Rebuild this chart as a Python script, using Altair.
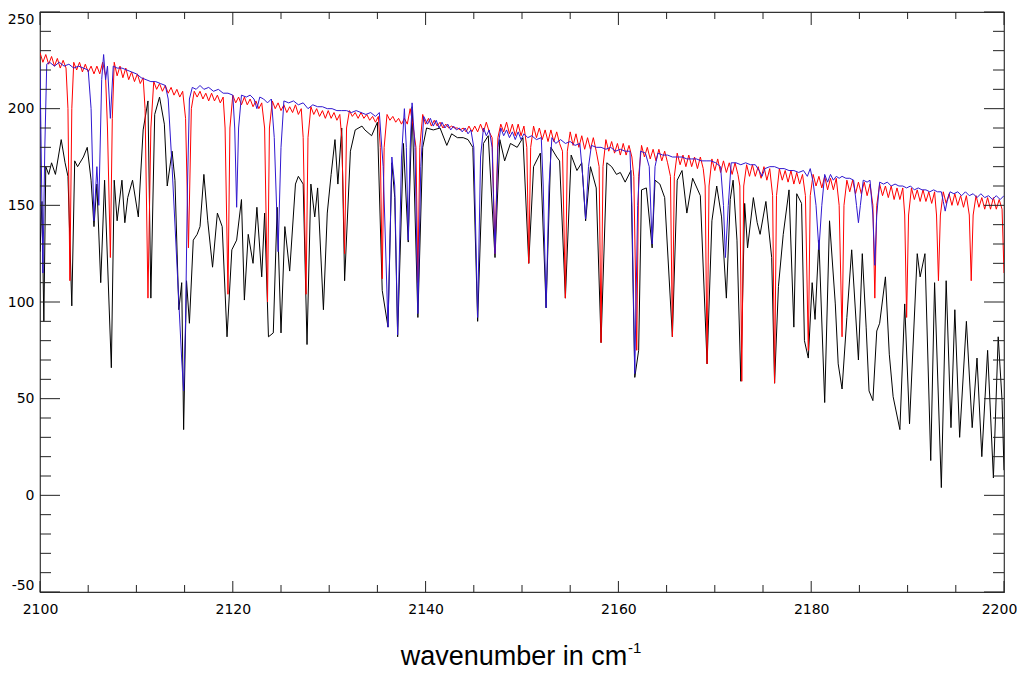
import altair as alt
import pandas as pd

# ---------------- data ----------------
black_pts = [
    [2100.0,126],[2100.2,152],[2100.4,90],[2100.6,170],[2100.9,166],[2101.2,172],[2101.6,166],[2102.2,184],
    [2102.6,172],[2102.9,165],[2103.3,98],[2103.6,173],[2103.9,170],[2104.5,175],[2104.9,180],[2105.3,163],
    [2105.6,139],[2105.9,161],[2106.3,110],[2106.7,163],[2107.4,66],[2107.7,163],[2108.0,142],[2108.5,163],
    [2108.8,141],[2109.1,154],[2109.6,163],[2110.2,144],[2110.7,189],[2111.2,204],[2111.5,102],[2111.9,197],
    [2112.4,206],[2112.9,192],[2113.2,160],[2113.7,178],[2114.0,163],[2114.4,96],[2114.7,110],[2114.9,34],
    [2115.2,111],[2115.5,89],[2115.9,132],[2116.3,135],[2116.6,139],[2117.0,166],[2117.4,142],[2117.9,118],
    [2118.4,146],[2118.9,139],[2119.4,82],[2119.9,127],[2120.4,132],[2120.9,153],[2121.2,101],[2121.6,135],
    [2122.1,120],[2122.5,149],[2123.0,113],[2123.3,146],[2123.7,82],[2124.2,84],[2124.6,149],[2125.0,84],
    [2125.4,139],[2125.9,116],[2126.5,161],[2126.8,165],[2127.3,161],[2127.7,78],[2128.1,161],[2128.5,144],
    [2128.8,159],[2129.4,96],[2129.8,146],[2130.2,166],[2130.6,184],[2130.9,161],[2131.3,190],[2131.6,111],
    [2132.2,178],[2132.7,189],[2133.4,191],[2133.7,189],[2134.4,186],[2135.0,193],[2135.5,106],[2136.1,87],
    [2136.5,172],[2136.8,154],[2137.1,82],[2137.7,182],[2138.2,131],[2138.6,201],[2139.2,92],[2139.7,180],
    [2140.1,190],[2140.8,189],[2141.5,190],[2142.2,181],[2142.7,187],[2143.3,185],[2143.9,185],[2144.4,184],
    [2144.9,180],[2145.4,90],[2146.0,182],[2146.5,186],[2147.2,123],[2147.7,184],[2148.2,173],[2148.8,182],
    [2149.5,180],[2150.1,185],[2150.7,120],[2151.2,170],[2151.9,177],[2152.5,97],[2153.0,180],[2153.6,175],
    [2153.9,173],[2154.5,102],[2155.1,176],[2155.7,168],[2156.2,172],[2156.6,142],[2157.1,170],[2157.7,159],
    [2158.2,79],[2158.8,172],[2159.3,170],[2159.8,166],[2160.2,167],[2160.7,162],[2161.3,168],[2161.7,61],
    [2162.1,75],[2162.4,158],[2162.9,159],[2163.5,128],[2163.8,163],[2164.3,161],[2164.8,154],[2165.6,82],
    [2166.1,163],[2166.6,168],[2167.1,146],[2167.7,164],[2168.5,155],[2169.2,68],[2169.7,142],[2170.2,160],
    [2170.7,144],[2171.2,102],[2171.6,153],[2171.9,163],[2172.3,132],[2172.7,59],[2173.1,151],[2173.4,128],
    [2174.0,154],[2174.4,141],[2174.7,135],[2175.3,152],[2175.9,123],[2176.2,58],[2176.6,108],[2177.1,135],
    [2177.7,158],[2178.2,87],[2178.5,156],[2179.0,151],[2179.3,80],[2179.7,71],[2180.1,110],[2180.4,91],
    [2180.8,132],[2181.4,48],[2181.9,142],[2182.5,99],[2182.8,68],[2183.2,55],[2183.7,92],[2184.2,127],
    [2184.9,70],[2185.3,125],[2185.7,87],[2186.0,54],[2186.4,49],[2186.8,85],[2187.1,89],[2187.7,113],
    [2188.1,73],[2188.5,51],[2189.2,34],[2189.7,99],[2190.2,37],[2191.0,125],[2191.3,113],[2191.8,125],
    [2192.4,18],[2192.8,110],[2193.5,4],[2194.0,111],[2194.5,35],[2194.9,96],[2195.4,30],[2196.1,90],
    [2196.7,35],[2197.2,71],[2197.7,20],[2198.3,75],[2198.9,9],[2199.4,82],[2199.8,49],[2200.0,13],
]

red_pts = [
    [2100.0,229],[2100.3,224],[2100.6,228],[2100.9,223],[2101.2,227],[2101.5,222],[2101.8,226],[2102.1,221],
    [2102.4,225],[2102.7,221],[2102.9,200],[2103.1,111],[2103.3,200],[2103.5,224],[2103.8,220],[2104.1,224],
    [2104.4,219],[2104.7,223],[2105.0,219],[2105.3,222],[2105.6,218],[2105.9,222],[2106.2,218],[2106.5,224],
    [2106.8,217],[2107.0,190],[2107.3,123],[2107.5,195],[2107.7,224],[2108.0,217],[2108.3,222],[2108.6,216],
    [2108.9,221],[2109.2,215],[2109.5,219],[2109.8,214],[2110.1,218],[2110.4,213],[2110.7,216],[2110.9,200],
    [2111.2,102],[2111.5,190],[2111.8,214],[2112.1,210],[2112.4,213],[2112.7,209],[2113.0,212],[2113.3,208],
    [2113.6,211],[2113.9,207],[2114.2,210],[2114.5,206],[2114.8,209],[2115.1,195],[2115.4,128],[2115.7,200],
    [2116.0,209],[2116.3,206],[2116.6,209],[2116.9,205],[2117.2,208],[2117.5,204],[2117.8,208],[2118.1,204],
    [2118.4,207],[2118.7,203],[2119.0,206],[2119.2,190],[2119.5,104],[2119.7,190],[2120.0,207],[2120.3,203],
    [2120.6,206],[2120.9,202],[2121.2,206],[2121.5,202],[2121.8,205],[2122.1,201],[2122.4,204],[2122.7,200],
    [2123.0,203],[2123.3,190],[2123.6,100],[2123.8,190],[2124.1,204],[2124.4,200],[2124.7,203],[2125.0,199],
    [2125.3,202],[2125.6,198],[2125.9,201],[2126.2,198],[2126.5,202],[2126.8,197],[2127.1,200],[2127.3,185],
    [2127.6,104],[2127.8,185],[2128.1,201],[2128.4,197],[2128.7,200],[2129.0,196],[2129.3,199],[2129.6,195],
    [2129.9,199],[2130.2,195],[2130.5,198],[2130.8,194],[2131.1,197],[2131.3,185],[2131.6,125],[2131.8,190],
    [2132.1,199],[2132.4,196],[2132.7,198],[2133.0,195],[2133.3,198],[2133.6,195],[2133.9,197],[2134.2,194],
    [2134.5,196],[2134.8,193],[2135.1,196],[2135.3,180],[2135.5,112],[2135.7,180],[2136.0,197],[2136.3,194],
    [2136.6,196],[2136.9,193],[2137.2,195],[2137.5,192],[2137.8,195],[2138.1,192],[2138.4,200],[2138.7,191],
    [2139.0,180],[2139.2,110],[2139.4,180],[2139.7,197],[2140.0,192],[2140.3,195],[2140.6,191],[2140.9,194],
    [2141.2,191],[2141.5,193],[2141.8,190],[2142.1,192],[2142.4,190],[2142.7,191],[2143.0,190],[2143.3,190],
    [2143.6,189],[2143.9,190],[2144.2,188],[2144.5,191],[2144.8,188],[2145.1,191],[2145.4,188],[2145.7,192],
    [2146.0,188],[2146.3,193],[2146.6,188],[2146.9,185],[2147.2,125],[2147.5,185],[2147.8,192],[2148.1,188],
    [2148.4,193],[2148.7,187],[2149.0,192],[2149.3,186],[2149.6,192],[2149.9,186],[2150.2,191],[2150.5,180],
    [2150.7,120],[2150.9,180],[2151.2,191],[2151.5,185],[2151.8,190],[2152.1,184],[2152.4,189],[2152.7,183],
    [2153.0,189],[2153.3,183],[2153.6,188],[2153.9,182],[2154.2,178],[2154.5,102],[2154.7,178],[2155.0,188],
    [2155.3,181],[2155.6,187],[2155.9,180],[2156.2,186],[2156.5,179],[2156.8,185],[2157.1,179],[2157.4,185],
    [2157.7,178],[2158.0,170],[2158.2,79],[2158.4,170],[2158.7,184],[2159.0,178],[2159.3,183],[2159.6,177],
    [2159.9,182],[2160.2,176],[2160.5,182],[2160.8,176],[2161.1,181],[2161.4,175],[2161.6,165],[2161.9,75],
    [2162.1,165],[2162.4,181],[2162.7,175],[2163.0,180],[2163.3,174],[2163.6,179],[2163.9,173],[2164.2,179],
    [2164.5,173],[2164.8,178],[2165.1,172],[2165.4,165],[2165.6,82],[2165.8,165],[2166.1,177],[2166.4,171],
    [2166.7,176],[2167.0,170],[2167.3,176],[2167.6,170],[2167.9,175],[2168.2,169],[2168.5,175],[2168.8,169],
    [2169.0,160],[2169.2,68],[2169.4,160],[2169.7,174],[2170.0,168],[2170.3,174],[2170.6,167],[2170.9,173],
    [2171.2,167],[2171.5,172],[2171.8,166],[2172.1,172],[2172.4,166],[2172.6,160],[2172.8,59],[2173.0,160],
    [2173.3,171],[2173.6,165],[2173.9,171],[2174.2,165],[2174.5,170],[2174.8,164],[2175.1,170],[2175.4,163],
    [2175.7,169],[2176.0,155],[2176.2,58],[2176.4,155],[2176.7,169],[2177.0,163],[2177.3,168],[2177.6,162],
    [2177.9,168],[2178.2,161],[2178.5,167],[2178.8,161],[2179.1,166],[2179.4,155],[2179.7,75],[2179.9,155],
    [2180.2,166],[2180.5,160],[2180.8,165],[2181.1,159],[2181.4,165],[2181.7,158],[2182.0,164],[2182.3,158],
    [2182.6,164],[2182.9,150],[2183.2,82],[2183.4,150],[2183.7,163],[2184.0,157],[2184.3,163],[2184.6,156],
    [2184.9,162],[2185.2,156],[2185.5,162],[2185.8,155],[2186.1,161],[2186.4,150],[2186.6,102],[2186.8,150],
    [2187.1,161],[2187.4,155],[2187.7,160],[2188.0,154],[2188.3,160],[2188.6,153],[2188.9,159],[2189.2,153],
    [2189.5,159],[2189.7,145],[2189.9,92],[2190.1,145],[2190.4,159],[2190.7,153],[2191.0,158],[2191.3,152],
    [2191.6,158],[2191.9,152],[2192.2,157],[2192.5,151],[2192.8,157],[2193.0,145],[2193.2,111],[2193.4,145],
    [2193.7,157],[2194.0,151],[2194.3,156],[2194.6,150],[2194.9,156],[2195.2,150],[2195.5,155],[2195.8,149],
    [2196.1,155],[2196.4,145],[2196.6,111],[2196.8,145],[2197.1,155],[2197.4,149],[2197.7,154],[2198.0,148],
    [2198.3,154],[2198.6,148],[2198.9,154],[2199.2,148],[2199.5,153],[2199.8,148],[2200.0,115],
]

blue_pts = [
    [2100.0,222],[2100.2,150],[2100.3,115],[2100.5,180],[2100.7,223],[2101.0,224],[2101.5,222],[2102.0,224],
    [2102.5,222],[2103.0,223],[2103.5,221],[2104.0,222],[2104.5,221],[2105.0,220],[2105.3,200],[2105.6,142],
    [2105.9,170],[2106.1,150],[2106.4,215],[2106.6,228],[2106.8,215],[2107.0,222],[2107.3,195],[2107.6,222],
    [2108.0,221],[2108.5,221],[2109.0,220],[2109.5,219],[2110.0,218],[2110.5,216],[2111.0,215],[2111.5,214],
    [2112.0,214],[2112.5,213],[2113.0,212],[2113.3,205],[2113.7,170],[2114.1,130],[2114.4,100],[2114.7,70],
    [2114.9,54],[2115.1,90],[2115.3,160],[2115.5,205],[2115.8,211],[2116.2,210],[2116.6,212],[2117.0,210],
    [2117.5,211],[2118.0,209],[2118.5,210],[2119.0,208],[2119.5,208],[2120.0,207],[2120.2,190],[2120.4,149],
    [2120.6,190],[2120.9,207],[2121.4,206],[2121.8,207],[2122.2,205],[2122.5,200],[2122.8,206],[2123.2,205],
    [2123.6,203],[2124.0,205],[2124.3,185],[2124.7,126],[2125.0,180],[2125.3,204],[2125.8,203],[2126.3,204],
    [2126.8,202],[2127.3,203],[2127.8,200],[2128.3,202],[2128.8,201],[2129.3,201],[2129.8,200],[2130.3,200],
    [2130.8,199],[2131.3,199],[2131.8,199],[2132.3,198],[2132.8,199],[2133.3,198],[2133.8,197],[2134.3,198],
    [2134.8,196],[2135.2,198],[2135.6,170],[2136.1,87],[2136.5,175],[2136.8,160],[2137.1,83],[2137.5,175],
    [2137.8,200],[2138.0,180],[2138.2,132],[2138.4,180],[2138.6,203],[2138.9,180],[2139.2,94],[2139.5,170],
    [2139.8,196],[2140.2,192],[2140.5,195],[2140.8,191],[2141.1,194],[2141.4,190],[2141.7,193],[2142.0,190],
    [2142.3,192],[2142.6,189],[2142.9,191],[2143.2,189],[2143.5,190],[2143.8,188],[2144.1,190],[2144.4,187],
    [2144.7,189],[2145.0,180],[2145.4,92],[2145.7,175],[2146.0,190],[2146.3,186],[2146.6,189],[2146.9,180],
    [2147.2,125],[2147.5,180],[2147.8,190],[2148.1,186],[2148.4,189],[2148.7,185],[2149.0,188],[2149.3,184],
    [2149.6,188],[2149.9,184],[2150.2,187],[2150.6,185],[2151.0,186],[2151.5,184],[2152.0,185],[2152.2,160],
    [2152.5,97],[2152.8,160],[2153.1,185],[2153.5,182],[2154.0,184],[2154.5,182],[2155.0,183],[2155.5,181],
    [2156.0,182],[2156.3,165],[2156.6,143],[2156.9,170],[2157.2,181],[2157.7,180],[2158.2,180],[2158.7,179],
    [2159.2,180],[2159.7,178],[2160.2,179],[2160.7,178],[2161.2,178],[2161.4,150],[2161.7,63],[2162.0,150],
    [2162.3,178],[2162.8,177],[2163.2,170],[2163.5,130],[2163.8,170],[2164.1,177],[2164.6,176],[2165.1,176],
    [2165.6,175],[2166.1,175],[2166.6,175],[2167.1,174],[2167.6,174],[2168.1,174],[2168.6,173],[2169.1,173],
    [2169.6,173],[2170.1,172],[2170.6,170],[2170.9,150],[2171.1,123],[2171.4,150],[2171.7,172],[2172.2,172],
    [2172.7,171],[2173.2,172],[2173.7,171],[2174.2,171],[2174.6,168],[2174.9,165],[2175.2,169],[2175.7,170],
    [2176.2,170],[2176.7,169],[2177.2,169],[2177.7,168],[2178.2,168],[2178.7,167],[2179.2,168],[2179.6,165],
    [2179.9,169],[2180.2,162],[2180.5,150],[2180.8,127],[2181.1,150],[2181.4,166],[2181.7,162],[2182.0,166],
    [2182.3,163],[2182.6,165],[2182.9,164],[2183.2,165],[2183.6,164],[2184.0,164],[2184.4,163],[2184.7,150],
    [2184.9,141],[2185.1,150],[2185.4,163],[2185.8,162],[2186.1,163],[2186.4,145],[2186.6,119],[2186.8,145],
    [2187.1,162],[2187.5,161],[2187.9,162],[2188.3,160],[2188.7,161],[2189.1,160],[2189.5,160],[2189.9,159],
    [2190.3,160],[2190.7,158],[2191.1,159],[2191.5,158],[2191.9,158],[2192.3,157],[2192.7,158],[2193.1,157],
    [2193.5,157],[2193.7,152],[2193.9,147],[2194.1,152],[2194.4,157],[2194.8,156],[2195.2,157],[2195.6,155],
    [2196.0,157],[2196.4,155],[2196.8,156],[2197.2,154],[2197.6,156],[2198.0,154],[2198.4,155],[2198.8,153],
    [2199.2,155],[2199.6,153],[2200.0,155],
]

x_major = [2100, 2120, 2140, 2160, 2180, 2200]
x_minor = [2105, 2110, 2115, 2125, 2130, 2135, 2145, 2150, 2155,
           2165, 2170, 2175, 2185, 2190, 2195]
y_major = [-50, 0, 50, 100, 150, 200, 250]
y_minor = [-40, -30, -20, -10, 10, 20, 30, 40, 60, 70, 80, 90,
           110, 120, 130, 140, 160, 170, 180, 190, 210, 220, 230, 240]

title_main = "wavenumber in cm"
title_sup = "-1"

# ---------------- chart ----------------
W, H = 964, 580
FONT = "DejaVu Sans"
xs = alt.Scale(domain=[2100, 2200], nice=False, zero=False)
ys = alt.Scale(domain=[-50, 250], nice=False, zero=False)
x_axis = alt.Axis(values=x_major, labelExpr="'' + datum.value", tickSize=0, labelPadding=10,
                  labelFont=FONT, labelFontSize=14, labelColor="#000000", domain=False,
                  grid=False, title=None, labelFlush=False,
                  labelOffset={"condition": {"test": "datum.value == 2200", "value": -5}, "value": 0})
y_axis = alt.Axis(values=y_major, labelExpr="'' + datum.value", tickSize=0, labelPadding=6,
                  labelFont=FONT, labelFontSize=14, labelColor="#000000", domain=False,
                  grid=False, title=None, labelFlush=True)


def line(pts, color):
    df = pd.DataFrame(pts, columns=["wn", "val"])
    return alt.Chart(df).mark_line(color=color, strokeWidth=1, clip=True).encode(
        x=alt.X("wn:Q", scale=xs, axis=x_axis),
        y=alt.Y("val:Q", scale=ys, axis=y_axis),
    )


def yticks(vals, x0, x1):
    return alt.Chart(pd.DataFrame({"v": vals})).mark_rule(color="#222222", strokeWidth=1).encode(
        y=alt.Y("v:Q", scale=ys, axis=y_axis), x=alt.value(x0), x2=alt.value(x1))


def xticks(vals, y0, y1):
    return alt.Chart(pd.DataFrame({"v": vals})).mark_rule(color="#222222", strokeWidth=1).encode(
        x=alt.X("v:Q", scale=xs, axis=x_axis), y=alt.value(y0), y2=alt.value(y1))


title1 = alt.Chart(pd.DataFrame({"t": [title_main]})).mark_text(
    font="Liberation Sans", fontSize=27, align="center", baseline="alphabetic", color="#000000"
).encode(text="t:N", x=alt.value(474), y=alt.value(653))
title2 = alt.Chart(pd.DataFrame({"t": [title_sup]})).mark_text(
    font="Liberation Sans", fontSize=15, align="left", baseline="alphabetic", color="#000000"
).encode(text="t:N", x=alt.value(588), y=alt.value(641))

chart = alt.layer(
    line(black_pts, "#000000"),
    line(red_pts, "#ff0000"),
    line(blue_pts, "#3018d0"),
    yticks(y_major, 0, 20), yticks(y_minor, 0, 11),
    yticks(y_major, W - 20, W), yticks(y_minor, W - 11, W),
    xticks(x_major, H, H - 11), xticks(x_minor, H, H - 7),
    xticks(x_major, 0, 13), xticks(x_minor, 0, 7),
    title1, title2,
).properties(
    width=W, height=H,
    padding={"left": 32, "top": 4, "right": 13, "bottom": 81},
    autosize=alt.AutoSizeParams(type="none"),
).configure_view(stroke="#333333", strokeWidth=1.2)

chart.save("out.html", embed_options={"renderer": "svg", "actions": False})
